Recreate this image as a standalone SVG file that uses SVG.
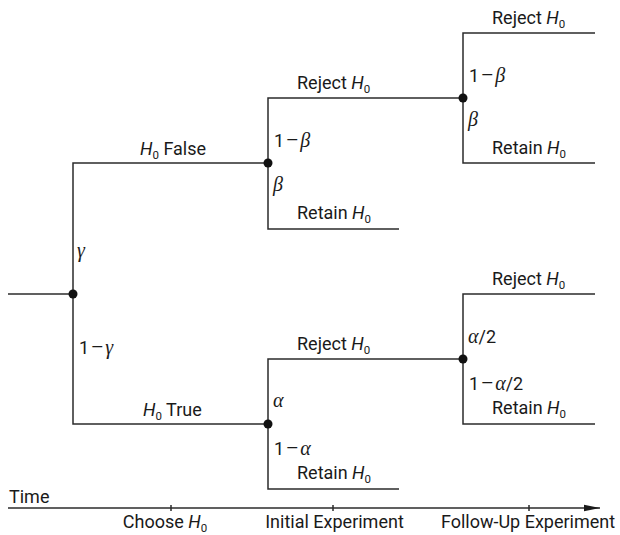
<svg xmlns="http://www.w3.org/2000/svg" width="620" height="535" viewBox="0 0 620 535">
<defs>
<style>
.ln{fill:none;stroke:#2b2b2b;stroke-width:1.5}
.dot{fill:#111}
text{font-family:Roboto,"Open Sans","DejaVu Sans",sans-serif;font-size:18px;fill:#1a1a1a}
.it{font-style:italic}
.gr{font-family:"Liberation Serif","DejaVu Serif",serif;font-style:italic;font-size:20px}
.mn{font-family:"Open Sans","Liberation Sans",sans-serif;font-size:21px}
.sub{font-size:11.5px;font-style:normal}
</style>
<marker id="arr" markerWidth="16" markerHeight="8" refX="16" refY="4" orient="auto" markerUnits="userSpaceOnUse">
<path d="M0,0.8 L16,4 L0,7.2 Z" fill="#1a1a1a"/>
</marker>
</defs>
<rect width="620" height="535" fill="#fff"/>
<g id="connectors">
<path class="ln" d="M8,294 H73"/>
<path class="ln" d="M73,294 V163 H268"/>
<path class="ln" d="M73,294 V424 H268"/>
<path class="ln" d="M268,163 V98 H463"/>
<path class="ln" d="M268,163 V229 H399"/>
<path class="ln" d="M463,98 V33 H595"/>
<path class="ln" d="M463,98 V163 H595"/>
<path class="ln" d="M268,424 V359 H463"/>
<path class="ln" d="M268,424 V489 H399"/>
<path class="ln" d="M463,359 V294 H595"/>
<path class="ln" d="M463,359 V424 H595"/>
</g>
<g id="node-root"><circle class="dot" cx="73" cy="294" r="4.5"/>
<text class="gr" x="77" y="257">γ</text>
<text x="79" y="354">1<tspan class="mn" dx="2">−</tspan><tspan class="gr" dx="2">γ</tspan></text>
</g>
<g id="node-false"><circle class="dot" cx="268" cy="163" r="4.5"/>
<text x="274" y="147">1<tspan class="mn" dx="2">−</tspan><tspan class="gr" dx="2">β</tspan></text>
<text class="gr" x="273" y="191">β</text>
</g>
<g id="node-true"><circle class="dot" cx="268" cy="424" r="4.5"/>
<text class="gr" x="273" y="407">α</text>
<text x="274" y="455">1<tspan class="mn" dx="2">−</tspan><tspan class="gr" dx="2">α</tspan></text>
</g>
<g id="node-false-reject"><circle class="dot" cx="463" cy="98" r="4.5"/>
<text x="469" y="82">1<tspan class="mn" dx="2">−</tspan><tspan class="gr" dx="2">β</tspan></text>
<text class="gr" x="468" y="126">β</text>
</g>
<g id="node-true-reject"><circle class="dot" cx="463" cy="359" r="4.5"/>
<text x="468" y="343"><tspan class="gr">α</tspan>/2</text>
<text x="469" y="390">1<tspan class="mn" dx="2">−</tspan><tspan class="gr" dx="2">α</tspan>/2</text>
</g>
<g id="labels">
<text x="140" y="155"><tspan class="it">H</tspan><tspan class="sub" dy="4">0</tspan><tspan dy="-4"> False</tspan></text>
<text x="143" y="416"><tspan class="it">H</tspan><tspan class="sub" dy="4">0</tspan><tspan dy="-4"> True</tspan></text>
<text x="297" y="89">Reject <tspan class="it">H</tspan><tspan class="sub" dy="4">0</tspan></text>
<text x="297" y="219">Retain <tspan class="it">H</tspan><tspan class="sub" dy="4">0</tspan></text>
<text x="492" y="24">Reject <tspan class="it">H</tspan><tspan class="sub" dy="4">0</tspan></text>
<text x="492" y="154">Retain <tspan class="it">H</tspan><tspan class="sub" dy="4">0</tspan></text>
<text x="297" y="350">Reject <tspan class="it">H</tspan><tspan class="sub" dy="4">0</tspan></text>
<text x="297" y="479">Retain <tspan class="it">H</tspan><tspan class="sub" dy="4">0</tspan></text>
<text x="492" y="285">Reject <tspan class="it">H</tspan><tspan class="sub" dy="4">0</tspan></text>
<text x="492" y="414">Retain <tspan class="it">H</tspan><tspan class="sub" dy="4">0</tspan></text>
</g>
<g id="timeline">
<path class="ln" d="M8,508 H600" marker-end="url(#arr)"/>
<path class="ln" d="M171,505 V511 M333,505 V511 M529,505 V511"/>
<text x="9" y="503">Time</text>
<text x="165" y="528" text-anchor="middle">Choose <tspan class="it">H</tspan><tspan class="sub" dy="4">0</tspan></text>
<text x="334.5" y="528" text-anchor="middle">Initial Experiment</text>
<text x="528" y="528" text-anchor="middle">Follow-Up Experiment</text>
</g>
</svg>
